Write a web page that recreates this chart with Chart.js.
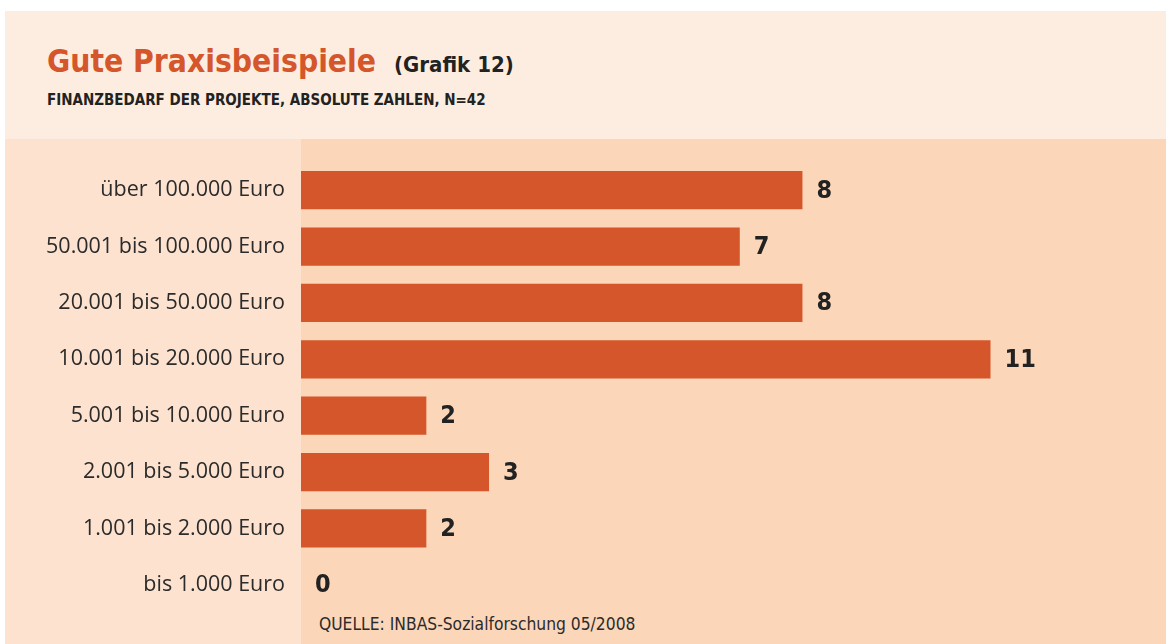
<!DOCTYPE html>
<html>
<head>
<meta charset="utf-8">
<script src="https://cdn.jsdelivr.net/npm/chart.js@4/dist/chart.umd.min.js"></script>
<style>
    body { margin: 0; width: 1166px; height: 644px; background: #fff; position: relative; overflow: hidden; }
    #head { position: absolute; left: 5px; top: 11px; width: 1161px; height: 128px; background: #fdede0; }
    #labelcol { position: absolute; left: 5px; top: 139px; width: 296px; height: 505px; background: #fde2cf; }
    #plotbg { position: absolute; left: 301px; top: 139px; width: 865px; height: 505px; background: #fbd6b9; }
    .cond { font-family: "DejaVu Sans Condensed", "DejaVu Sans", sans-serif; font-stretch: condensed; position: absolute; white-space: nowrap; }
    #title { left: 47px; top: 46px; font-size: 31.5px; line-height: 31.5px; font-weight: bold; color: #d4562a; }
    #title span { font-size: 22px; color: #222; margin-left: 18px; }
    #subtitle { left: 47px; top: 93px; font-size: 15px; line-height: 15px; font-weight: bold; color: #222; }
    #source { left: 319px; top: 616px; font-size: 17.3px; line-height: 17px; color: #2b2b2b; }
    #wrap { position: absolute; left: 0; top: 0; width: 1166px; height: 644px; }
</style>
</head>
<body>
<div id="head"></div>
<div id="labelcol"></div>
<div id="plotbg"></div>
<div id="title" class="cond">Gute Praxisbeispiele<span>(Grafik 12)</span></div>
<div id="subtitle" class="cond">FINANZBEDARF DER PROJEKTE, ABSOLUTE ZAHLEN, N=42</div>
<div id="source" class="cond">QUELLE: INBAS-Sozialforschung 05/2008</div>
<div id="wrap"><canvas id="chart" width="1166" height="644"></canvas></div>
<script>
// Finanzbedarf der Projekte, absolute Zahlen
const categories = [
    'über 100.000 Euro',
    '50.001 bis 100.000 Euro',
    '20.001 bis 50.000 Euro',
    '10.001 bis 20.000 Euro',
    '5.001 bis 10.000 Euro',
    '2.001 bis 5.000 Euro',
    '1.001 bis 2.000 Euro',
    'bis 1.000 Euro'
];
const projects = [8, 7, 8, 11, 2, 3, 2, 0];

const BAR_COLOR = '#d4562a';

// draw the number right of each bar
const valueLabels = {
    id: 'valueLabels',
    afterDatasetsDraw(chart) {
        const ctx = chart.ctx;
        const meta = chart.getDatasetMeta(0);
        ctx.save();
        ctx.font = 'bold 25px "DejaVu Sans Condensed", "DejaVu Sans", sans-serif';
        ctx.fillStyle = '#222';
        ctx.textBaseline = 'middle';
        ctx.textAlign = 'left';
        meta.data.forEach((bar, i) => {
            ctx.fillText(String(projects[i]), bar.x + 14, bar.y + 1);
        });
        ctx.restore();
    }
};

new Chart(document.getElementById('chart'), {
    type: 'bar',
    data: {
        labels: categories,
        datasets: [{
            data: projects,
            backgroundColor: BAR_COLOR,
            borderWidth: 0,
            barPercentage: 0.68,
            categoryPercentage: 1
        }]
    },
    options: {
        indexAxis: 'y',
        responsive: false,
        animation: false,
        devicePixelRatio: 1,
        layout: { padding: { left: 0, right: 0, top: 162, bottom: 31 } },
        plugins: {
            legend: { display: false },
            tooltip: { enabled: false }
        },
        scales: {
            x: {
                display: false,
                min: 0,
                max: 13.8
            },
            y: {
                afterFit(scale) { scale.width = 301; },
                grid: { display: false, drawTicks: false },
                border: { display: false },
                ticks: {
                    padding: 16,
                    color: '#2b2b2b',
                    font: { family: '"Open Sans", "Noto Sans", sans-serif', size: 21.5 }
                }
            }
        }
    },
    plugins: [valueLabels]
});
</script>
</body>
</html>
